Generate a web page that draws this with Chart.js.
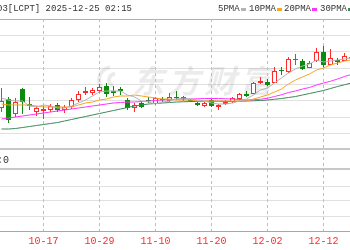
<!DOCTYPE html>
<html>
<head>
<meta charset="utf-8">
<script src="https://cdn.jsdelivr.net/npm/chart.js@4"></script>
<style>
  html, body { margin: 0; padding: 0; background: #fff; }
  canvas { display: block; }
</style>
</head>
<body>
<canvas id="kline" width="350" height="250"></canvas>
<script>
// trading days shown in the window
const dates = ['10-09','10-10','10-13','10-14','10-15','10-16','10-17','10-20','10-21','10-22',
  '10-23','10-24','10-27','10-28','10-29','10-30','10-31','11-03','11-04','11-05',
  '11-06','11-07','11-10','11-11','11-12','11-13','11-14','11-17','11-18','11-19',
  '11-20','11-21','11-24','11-25','11-26','11-27','11-28','12-01','12-02','12-03',
  '12-04','12-05','12-08','12-09','12-10','12-11','12-12','12-15','12-16','12-17','12-18'];
const labelIdx = [6, 14, 22, 30, 38, 46];

const open  = [11.68,12.04,11.44,12.44,11.84,11.52,11.56,11.60,11.80,11.60,11.72,12.00,12.28,12.28,12.36,12.56,12.36,12.44,12.00,11.68,11.88,12.00,11.84,12.04,11.96,12.12,12.12,12.00,11.88,11.76,12.00,11.72,11.84,11.92,12.04,12.24,12.24,12.68,12.72,12.68,13.20,13.12,13.60,13.56,13.28,13.56,13.92,13.40,13.60,13.56,13.68];
const high  = [12.48,12.12,12.08,12.48,12.12,11.76,11.76,11.84,11.88,11.80,12.08,12.36,12.52,12.48,12.64,12.68,12.56,12.52,12.08,11.88,11.96,12.12,12.12,12.12,12.28,12.36,12.16,12.04,11.92,11.92,12.04,11.84,12.00,12.12,12.28,12.36,12.72,12.92,12.84,13.32,13.32,13.72,13.84,13.64,13.56,14.08,14.16,14.04,13.68,13.88,13.76];
const low   = [11.52,11.08,11.32,11.44,11.60,11.36,11.24,11.52,11.52,11.48,11.64,11.92,12.20,12.20,12.28,12.12,12.16,12.20,11.60,11.52,11.68,11.88,11.80,11.92,11.92,12.00,11.96,11.92,11.76,11.72,11.72,11.60,11.80,11.88,12.00,12.12,12.24,12.64,12.56,12.68,13.00,13.08,13.40,13.20,13.28,13.52,13.32,13.40,13.40,13.56,13.64];
const close = [11.96,11.20,11.92,11.92,11.76,11.68,11.64,11.76,11.60,11.72,12.00,12.24,12.36,12.40,12.52,12.24,12.28,12.36,11.68,11.80,11.72,11.96,12.08,12.00,12.12,12.08,12.04,11.96,11.80,11.88,11.76,11.80,11.92,12.08,12.24,12.16,12.68,12.76,12.60,13.16,13.16,13.64,13.64,13.24,13.48,13.92,13.40,13.68,13.52,13.76,13.72];

const ma5  = [12.08,12.00,11.96,11.96,11.76,11.72,11.80,11.76,11.68,11.68,11.76,11.88,12.00,12.16,12.32,12.36,12.36,12.36,12.20,12.12,11.96,11.92,11.84,11.92,11.96,12.04,12.08,12.04,12.00,11.96,11.88,11.84,11.84,11.88,11.96,12.04,12.20,12.40,12.48,12.68,12.88,13.08,13.24,13.36,13.44,13.60,13.52,13.56,13.60,13.64,13.68];
const ma10 = [11.84,11.80,11.80,11.80,11.80,11.76,11.72,11.72,11.72,11.72,11.72,11.80,11.88,11.92,12.00,12.04,12.12,12.16,12.16,12.20,12.16,12.12,12.08,12.04,12.04,12.00,12.00,12.00,11.96,11.96,11.96,11.96,11.96,11.96,11.96,11.96,12.04,12.12,12.20,12.32,12.44,12.64,12.80,12.92,13.04,13.20,13.28,13.40,13.48,13.56,13.60];
const ma20 = [11.24,11.28,11.32,11.36,11.40,11.44,11.48,11.52,11.56,11.60,11.64,11.68,11.72,11.76,11.80,11.84,11.88,11.90,11.92,11.92,11.94,11.96,11.98,12.00,12.02,12.03,12.04,12.04,12.05,12.06,12.06,12.06,12.05,12.04,12.02,12.00,12.01,12.03,12.07,12.14,12.21,12.30,12.36,12.44,12.50,12.60,12.68,12.75,12.84,12.94,13.02];
const ma30 = [10.84,10.84,10.86,10.90,10.94,10.98,11.02,11.06,11.10,11.16,11.22,11.28,11.34,11.40,11.46,11.52,11.58,11.64,11.70,11.76,11.80,11.84,11.86,11.88,11.90,11.92,11.93,11.94,11.94,11.95,11.95,11.95,11.94,11.94,11.95,11.96,11.97,11.98,12.00,12.03,12.06,12.10,12.14,12.20,12.26,12.32,12.38,12.46,12.54,12.61,12.68];

// horizontal rules (price units): main panel grid, panel separators, lower panel grid
const gridLevels = [15.24, 14.584, 13.928, 13.272, 12.616, 11.96, 11.304, 10.648, 10.03, 9.25, 8.56, 7.96, 7.32, 6.76];
const separators = [10.03, 9.25];
const Y_TOP = 15.24;
const Y_BOTTOM = 6.76;

const RED = '#ff2b2b';
const GREEN = '#0c8a0c';

const isUp = (i) => close[i] >= open[i];
const idx = dates.map((d, i) => i);

const overlay = {
  id: 'overlay',
  beforeDatasetsDraw(chart) {
    const c = chart.ctx;
    c.save();
    // faint watermark
    c.fillStyle = 'rgba(0,0,0,0.08)';
    c.strokeStyle = 'rgba(0,0,0,0.08)';
    c.lineWidth = 4;
    c.beginPath(); c.arc(112, 80, 13, 0.55 * Math.PI, 1.45 * Math.PI); c.stroke();
    c.beginPath(); c.arc(115, 80, 6, 0.6 * Math.PI, 1.5 * Math.PI); c.stroke();
    c.font = 'italic bold 32px "Noto Sans CJK SC"';
    c.textBaseline = 'middle';
    const mark = '东方财富';
    for (let k = 0; k < mark.length; k++) c.fillText(mark[k], 132 + k * 36, 81);
    c.restore();
  },
  afterDraw(chart) {
    const c = chart.ctx;
    c.save();
    c.textBaseline = 'middle';
    c.font = '9px "Liberation Mono"';
    c.fillStyle = '#333';
    c.fillText('03[LCPT] 2025-12-25 02:15', -3, 9);
    const legend = [['5PMA', 218, '#b4b4b4'], ['10PMA', 249, '#f5a623'], ['20PMA', 284, '#ff33ff'], ['30PMA', 320, '#3a8a5a']];
    legend.forEach(([t, x, col]) => {
      c.fillStyle = '#333';
      c.fillText(t, x, 9);
      const w = c.measureText(t).width;
      c.fillStyle = col;
      c.fillRect(Math.round(x + w + 1), 8, 5, 3);
    });
    c.font = '10px "Liberation Mono"';
    c.fillStyle = '#333';
    c.fillText(':0', -3, 160);
    c.restore();
  }
};

// one dashed vertical line per date label, drawn as a line dataset
const dateLineSets = labelIdx.map(v => ({
  type: 'line',
  label: 'date-' + dates[v],
  data: [{ x: v, y: Y_TOP }, { x: v, y: Y_BOTTOM }],
  borderColor: '#bdbdbd',
  borderWidth: 1,
  borderDash: [3, 3],
  pointRadius: 0,
  order: 5,
}));

new Chart(document.getElementById('kline'), {
  type: 'bar',
  data: {
    datasets: [
      ...dateLineSets,
      {
        label: 'wick',
        data: idx.map(i => ({ x: i, y: [low[i], high[i]] })),
        backgroundColor: idx.map(i => isUp(i) ? RED : GREEN),
        borderWidth: 0,
        barThickness: 1,
        grouped: false,
        inflateAmount: 0,
        order: 3,
      },
      {
        label: 'body',
        data: idx.map(i => ({ x: i, y: [open[i], close[i]] })),
        backgroundColor: idx.map(i => isUp(i) ? '#ffffff' : GREEN),
        borderColor: idx.map(i => isUp(i) ? RED : GREEN),
        borderWidth: 1,
        borderSkipped: false,
        barThickness: 5,
        grouped: false,
        inflateAmount: 0,
        order: 2,
      },
      { type: 'line', label: '5PMA', data: idx.map(i => ({ x: i, y: ma5[i] })), borderColor: '#b4b4b4', borderWidth: 1, pointRadius: 0, order: 1 },
      { type: 'line', label: '10PMA', data: idx.map(i => ({ x: i, y: ma10[i] })), borderColor: '#f5a623', borderWidth: 1, pointRadius: 0, order: 1 },
      { type: 'line', label: '20PMA', data: idx.map(i => ({ x: i, y: ma20[i] })), borderColor: '#ff33ff', borderWidth: 1, pointRadius: 0, order: 1 },
      { type: 'line', label: '30PMA', data: idx.map(i => ({ x: i, y: ma30[i] })), borderColor: '#3a8a5a', borderWidth: 1, pointRadius: 0, order: 1 },
    ],
  },
  options: {
    responsive: false,
    animation: false,
    layout: { padding: { top: 19, left: 0, right: 0, bottom: 0 } },
    plugins: { legend: { display: false }, tooltip: { enabled: false } },
    scales: {
      x: {
        type: 'linear',
        offset: false,
        min: -0.2143,
        max: 49.7857,
        afterBuildTicks: (s) => { s.ticks = labelIdx.map(v => ({ value: v })); },
        afterFit: (s) => { s.height = 19; },
        ticks: {
          autoSkip: false,
          maxRotation: 0,
          padding: 4,
          color: RED,
          font: { family: 'Liberation Mono', size: 10 },
          callback: (v) => dates[v],
        },
        grid: { display: false, drawTicks: false },
        border: { display: true, color: '#a8a8a8' },
      },
      y: {
        min: Y_BOTTOM,
        max: Y_TOP,
        afterBuildTicks: (s) => { s.ticks = gridLevels.map(v => ({ value: v })); },
        afterFit: (s) => { s.width = 0; },
        ticks: { display: false },
        border: { display: false },
        grid: {
          drawTicks: false,
          color: (ctx) => {
            const v = ctx.tick ? ctx.tick.value : 0;
            if (v === Y_TOP) return '#b0b0b0';
            if (separators.includes(v)) return '#c8c8c8';
            return '#e0e0e0';
          },
          lineWidth: (ctx) => (ctx.tick && separators.includes(ctx.tick.value)) ? 2 : 1,
        },
      },
    },
  },
  plugins: [overlay],
});
</script>
</body>
</html>
